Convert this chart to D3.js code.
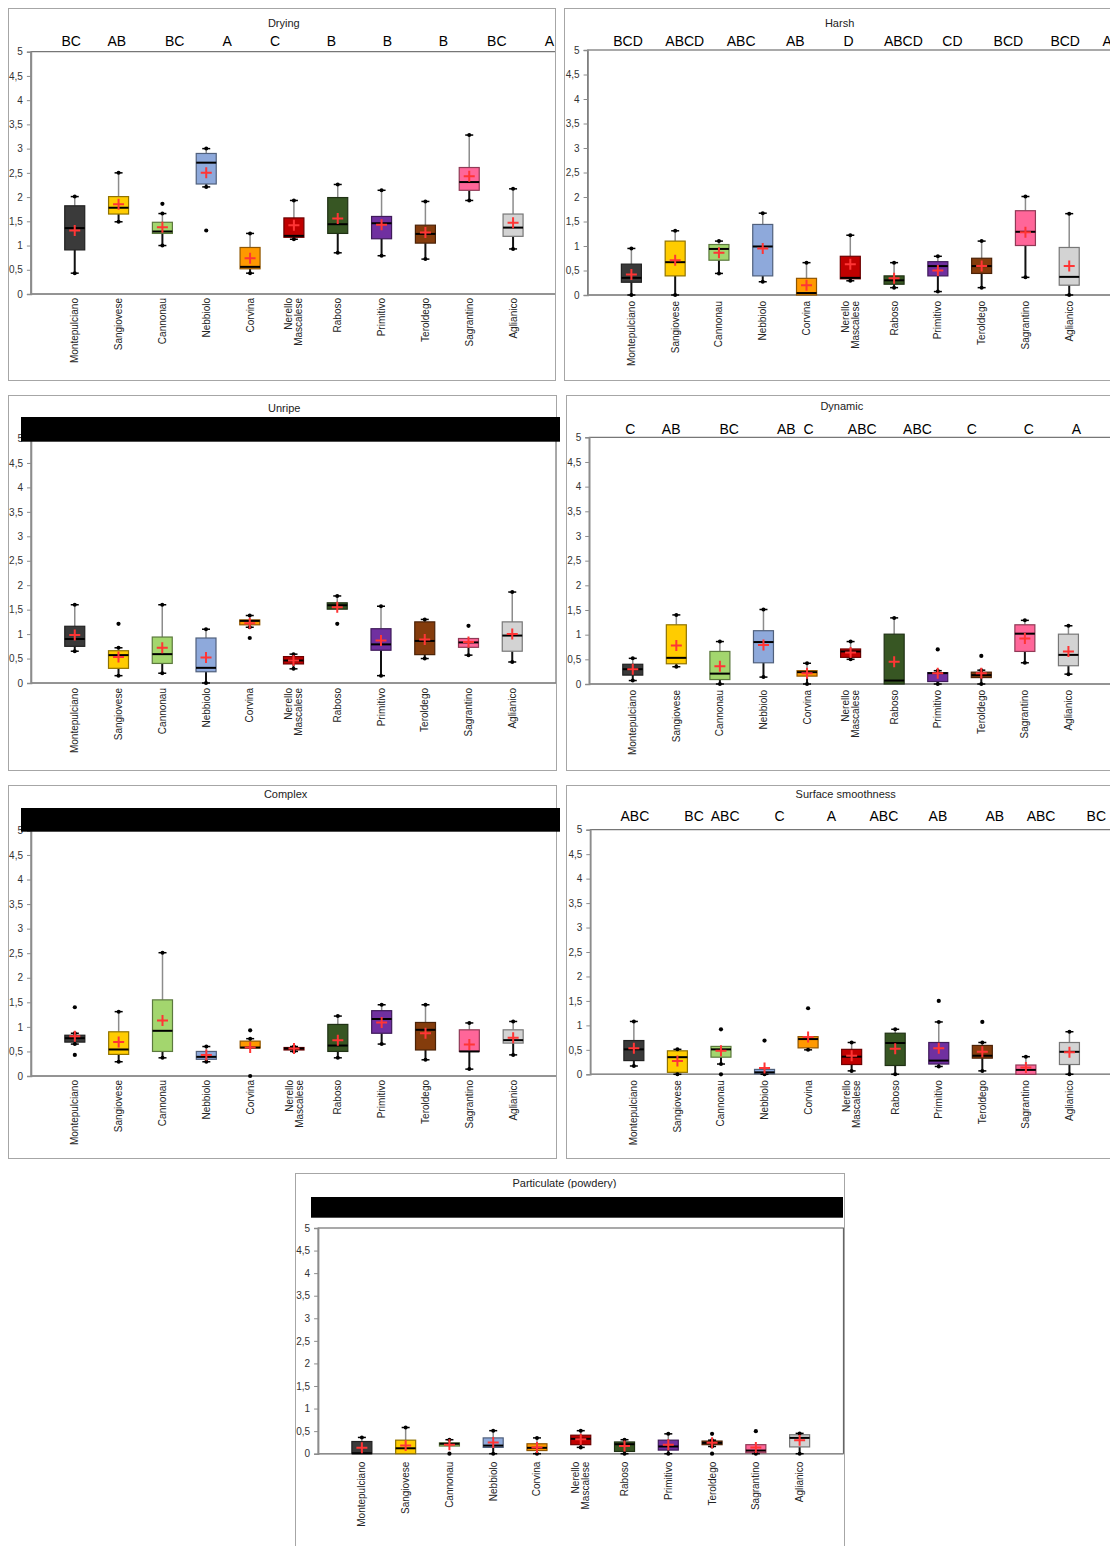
<!DOCTYPE html>
<html><head><meta charset="utf-8">
<script src="https://cdn.jsdelivr.net/npm/d3@7"></script>
<style>
body{margin:0;background:#fff}
svg{display:block}
text{font-family:"Liberation Sans",Arial,sans-serif}
</style>
</head><body>
<svg id="c" width="1110" height="1546"></svg>
<script>
// ---------- data ----------
const varieties = ["Montepulciano","Sangiovese","Cannonau","Nebbiolo","Corvina","Nerello Mascalese","Raboso","Primitivo","Teroldego","Sagrantino","Aglianico"];
const varietyLabels = [["Montepulciano"],["Sangiovese"],["Cannonau"],["Nebbiolo"],["Corvina"],["Nerello","Mascalese"],["Raboso"],["Primitivo"],["Teroldego"],["Sagrantino"],["Aglianico"]];
const varietyColors = ["#3a3a3a","#FFCC00","#A3D66E","#8EA9DB","#FF9900","#C00000","#375623","#7030A0","#843C0C","#FF6699","#D3D3D3"];
const yTicks = [0,0.5,1,1.5,2,2.5,3,3.5,4,4.5,5];

// [min, q1, median, q3, max] per variety
const dryingBox = [[0.43,0.91,1.36,1.82,2.01],[1.49,1.65,1.78,2.01,2.50],[1.00,1.25,1.29,1.48,1.66],[2.21,2.27,2.71,2.90,3.00],[0.43,0.52,0.56,0.96,1.25],[1.13,1.17,1.20,1.57,1.93],[0.85,1.25,1.44,1.99,2.26],[0.79,1.14,1.46,1.60,2.14],[0.72,1.05,1.24,1.42,1.91],[1.93,2.14,2.31,2.61,3.28],[0.93,1.19,1.37,1.65,2.17]];
const dryingMean = [1.31,1.85,1.38,2.50,0.74,1.42,1.56,1.43,1.27,2.43,1.47];
const dryingOutliers = [[],[],[1.86],[1.31],[],[],[],[],[],[],[]];
const dryingLetters = ["BC","AB","BC","A","C","B","B","B","BC","A"];
const dryingGaps = [7,10,10,10,12,12,12,10,10];

const harshBox = [[0,0.26,0.35,0.63,0.95],[0,0.39,0.67,1.10,1.31],[0.44,0.71,0.94,1.03,1.10],[0.27,0.39,0.99,1.44,1.67],[0,0,0.04,0.34,0.66],[0.29,0.33,0.35,0.79,1.22],[0.15,0.22,0.30,0.39,0.66],[0.07,0.39,0.59,0.68,0.79],[0.15,0.44,0.59,0.75,1.10],[0.36,1.01,1.29,1.72,2.01],[0,0.20,0.37,0.97,1.66]];
const harshMean = [0.42,0.71,0.86,0.95,0.20,0.63,0.34,0.50,0.59,1.28,0.59];
const harshOutliers = [[],[],[],[],[],[],[],[],[],[],[]];
const harshLetters = ["BCD","ABCD","ABC","AB","D","ABCD","CD","BCD","BCD","A"];
const harshGaps = [6,6,8,10,8,5,8,7,6];

const unripeBox = [[0.65,0.75,0.90,1.16,1.60],[0.15,0.30,0.57,0.66,0.72],[0.20,0.40,0.59,0.94,1.60],[0,0.23,0.31,0.92,1.10],[1.14,1.19,1.27,1.29,1.38],[0.29,0.39,0.46,0.54,0.59],[1.51,1.51,1.59,1.64,1.78],[0.15,0.67,0.79,1.11,1.57],[0.50,0.58,0.86,1.25,1.30],[0.57,0.73,0.83,0.91,0.91],[0.43,0.65,0.97,1.25,1.86]];
const unripeMean = [0.98,0.53,0.72,0.52,1.22,0.46,1.55,0.87,0.89,0.84,1.00];
const unripeOutliers = [[],[1.21],[],[],[0.92],[],[1.21],[],[],[1.17],[]];

const dynamicBox = [[0.07,0.18,0.30,0.40,0.52],[0.35,0.41,0.53,1.20,1.40],[0,0.09,0.21,0.66,0.86],[0.14,0.43,0.85,1.08,1.51],[0,0.16,0.24,0.27,0.42],[0.50,0.54,0.66,0.71,0.86],[0,0,0.07,1.01,1.34],[0,0.05,0.22,0.23,0.27],[0,0.13,0.18,0.24,0.28],[0.43,0.66,1.02,1.20,1.29],[0.20,0.37,0.59,1.01,1.18]];
const dynamicMean = [0.30,0.78,0.36,0.79,0.22,0.64,0.45,0.22,0.22,0.92,0.66];
const dynamicOutliers = [[],[],[],[],[],[],[],[0.70],[0.57],[],[]];
const dynamicLetters = ["C","AB","BC","AB","C","ABC","ABC","C","C","A"];
const dynamicGaps = [7,10,10,2,9,7,9,12,10];

const complexBox = [[0.65,0.69,0.77,0.83,0.87],[0.29,0.44,0.54,0.90,1.31],[0.37,0.50,0.92,1.55,2.51],[0.29,0.34,0.39,0.50,0.60],[0.57,0.57,0.58,0.71,0.76],[0.50,0.53,0.56,0.58,0.60],[0.37,0.50,0.62,1.05,1.22],[0.65,0.87,1.16,1.33,1.45],[0.33,0.53,0.94,1.09,1.45],[0.14,0.50,0.50,0.94,1.08],[0.43,0.67,0.73,0.94,1.11]];
const complexMean = [0.81,0.69,1.13,0.43,0.58,0.56,0.73,1.09,0.87,0.64,0.78];
const complexOutliers = [[1.40,0.43],[],[],[],[0.93,0],[],[],[],[],[],[]];

const surfaceBox = [[0.17,0.28,0.51,0.69,1.08],[0,0.04,0.35,0.48,0.51],[0.21,0.35,0.51,0.57,0.57],[0,0.01,0.04,0.10,0.10],[0.50,0.54,0.72,0.77,0.77],[0.07,0.20,0.36,0.51,0.65],[0,0.18,0.64,0.84,0.92],[0.16,0.21,0.28,0.65,1.07],[0.07,0.33,0.38,0.59,0.65],[0,0,0.09,0.19,0.36],[0,0.20,0.46,0.65,0.87]];
const surfaceMean = [0.53,0.27,0.48,0.13,0.76,0.38,0.52,0.53,0.46,0.14,0.45];
const surfaceOutliers = [[],[],[0.92,0],[0.69],[1.35],[],[],[1.50],[1.07],[],[]];
const surfaceLetters = ["ABC","BC","ABC","C","A","ABC","AB","AB","ABC","BC"];
const surfaceGaps = [9,2,9,11,9,8,10,6,8];

const particulateBox = [[0,0,0.01,0.27,0.36],[0,0,0.12,0.30,0.58],[0.17,0.17,0.22,0.24,0.31],[0,0.14,0.18,0.35,0.51],[0,0.07,0.13,0.22,0.35],[0.14,0.20,0.33,0.41,0.51],[0,0.05,0.21,0.26,0.31],[0,0.08,0.16,0.30,0.44],[0.16,0.20,0.24,0.28,0.30],[0,0.02,0.07,0.20,0.20],[0,0.15,0.35,0.42,0.45]];
const particulateMean = [0.13,0.18,0.20,0.25,0.14,0.32,0.17,0.20,0.24,0.14,0.30];
const particulateOutliers = [[],[],[0],[],[],[],[],[],[0.44,0],[0.50],[]];

// ---------- layout ----------
const panels = [
  {title:"Drying", box:dryingBox, mean:dryingMean, out:dryingOutliers, letters:dryingLetters, gaps:dryingGaps,
   frame:[8,8,555,380], plot:[30.9,556.9,51.7,294], tx:283.8, ty:27.3, lx:61.5, ly:46, lab:4},
  {title:"Harsh", box:harshBox, mean:harshMean, out:harshOutliers, letters:harshLetters, gaps:harshGaps,
   frame:[564,8,1130,380], plot:[587.6,1113,50,295], tx:839.6, ty:27.3, lx:613.2, ly:46, lab:6},
  {title:"Unripe", box:unripeBox, mean:unripeMean, out:unripeOutliers, bar:[21,417,560,441.7],
   frame:[8,395,556,770], plot:[31,556,438.5,683], tx:284.2, ty:411.7, lab:5},
  {title:"Dynamic", box:dynamicBox, mean:dynamicMean, out:dynamicOutliers, letters:dynamicLetters, gaps:dynamicGaps,
   frame:[566,395,1130,770], plot:[589.2,1112,437.3,684], tx:841.8, ty:410, lx:625.3, ly:434, lab:6},
  {title:"Complex", box:complexBox, mean:complexMean, out:complexOutliers, bar:[21,808,560,831.7],
   frame:[8,785,556,1158], plot:[31,557,830.4,1076], tx:285.6, ty:797.7, lab:4},
  {title:"Surface smoothness", box:surfaceBox, mean:surfaceMean, out:surfaceOutliers, letters:surfaceLetters, gaps:surfaceGaps,
   frame:[566,785,1130,1158], plot:[590.3,1113,829.7,1074.3], tx:845.7, ty:798.3, lx:620.5, ly:821, lab:6},
  {title:"Particulate (powdery)", box:particulateBox, mean:particulateMean, out:particulateOutliers, bar:[311,1197,843,1217.7],
   frame:[295,1173,844,1560], plot:[318.1,843.4,1228,1453.7], tx:564.4, ty:1187, lab:8, titleClip:1188.3}
];

const svg = d3.select("#c");
svg.append("rect").attr("width",1110).attr("height",1546).attr("fill","#fff");
const defs = svg.append("defs");

panels.forEach((p, pi) => {
  const [fx0, fy0, fx1, fy1] = p.frame;
  const [x0, x1, y5, y0] = p.plot;
  const clipId = "clip" + pi;
  defs.append("clipPath").attr("id", clipId).append("rect")
    .attr("x", fx0).attr("y", fy0).attr("width", fx1 - fx0).attr("height", fy1 - fy0);

  // panel frame
  svg.append("rect").attr("x", fx0 + 0.5).attr("y", fy0 + 0.5)
    .attr("width", fx1 - fx0).attr("height", fy1 - fy0)
    .attr("fill", "#fff").attr("stroke", "#a6a6a6").attr("stroke-width", 1);

  const g = svg.append("g").attr("clip-path", `url(#${clipId})`);

  const x = d3.scalePoint().domain(varieties).range([x0, x1]).padding(1);
  const y = d3.scaleLinear().domain([0, 5]).range([y0, y5]);

  // title
  const t = g.append("text").attr("x", p.tx).attr("y", p.ty)
    .attr("text-anchor", "middle").attr("font-size", 11).attr("fill", "#222").text(p.title);
  if (p.titleClip) {
    defs.append("clipPath").attr("id", "tclip" + pi).append("rect")
      .attr("x", fx0).attr("y", fy0).attr("width", fx1 - fx0).attr("height", p.titleClip - fy0);
    t.attr("clip-path", `url(#tclip${pi})`);
  }

  // significance letters
  if (p.letters) {
    let s = p.letters[0];
    for (let i = 1; i < p.letters.length; i++) s += " ".repeat(p.gaps[i - 1]) + p.letters[i];
    g.append("text").attr("x", p.lx).attr("y", p.ly)
      .attr("xml:space", "preserve").style("white-space", "pre")
      .attr("font-size", 14).attr("fill", "#000").text(s);
  }

  // plot frame
  g.append("rect").attr("x", x0).attr("y", y5).attr("width", x1 - x0).attr("height", y0 - y5)
    .attr("fill", "none").attr("stroke", "#555").attr("stroke-width", 1);

  // y axis
  const ya = g.append("g").attr("transform", `translate(${x0},0)`)
    .call(d3.axisLeft(y).tickValues(yTicks).tickSize(4).tickPadding(4)
      .tickFormat(d => String(d).replace(".", ",")));
  ya.select(".domain").attr("stroke", "#8c8c8c").attr("stroke-width", 1.6);
  ya.selectAll(".tick line").attr("stroke", "#8c8c8c");
  ya.selectAll(".tick text").attr("font-size", 10).attr("fill", "#333")
    .attr("font-family", '"Liberation Sans",Arial,sans-serif');

  // x axis line
  g.append("line").attr("x1", x0).attr("x2", x1).attr("y1", y0).attr("y2", y0)
    .attr("stroke", "#8c8c8c").attr("stroke-width", 1.6);

  // x labels
  varieties.forEach((v, i) => {
    const lg = g.append("g").attr("transform", `translate(${x(v)},${y0 + p.lab}) rotate(-90)`);
    const lines = varietyLabels[i];
    lines.forEach((ln, k) => {
      const off = lines.length === 1 ? 0 : (k === 0 ? -5 : 5);
      lg.append("text").attr("x", 0).attr("y", off).attr("dy", "0.35em")
        .attr("text-anchor", "end").attr("font-size", 10).attr("fill", "#222").text(ln);
    });
  });

  // boxes
  const bw = 20, cap = 4;
  varieties.forEach((v, i) => {
    const [mn, q1, md, q3, mx] = p.box[i];
    const cx = x(v);
    const col = varietyColors[i];
    const bg = g.append("g");
    if (mx > q3) {
      bg.append("line").attr("x1", cx).attr("x2", cx).attr("y1", y(q3)).attr("y2", y(mx))
        .attr("stroke", "#8c8c8c").attr("stroke-width", 1.5);
    }
    if (mn < q1) {
      bg.append("line").attr("x1", cx).attr("x2", cx).attr("y1", y(q1)).attr("y2", y(mn))
        .attr("stroke", "#111").attr("stroke-width", 2);
    }
    bg.append("rect").attr("x", cx - bw / 2).attr("y", y(q3)).attr("width", bw)
      .attr("height", Math.max(1, y(q1) - y(q3)))
      .attr("fill", col).attr("stroke", d3.color(col).darker(1.6)).attr("stroke-width", 1.2);
    bg.append("line").attr("x1", cx - bw / 2).attr("x2", cx + bw / 2).attr("y1", y(md)).attr("y2", y(md))
      .attr("stroke", "#000").attr("stroke-width", 2);
    [[mx, mx > q3], [mn, mn < q1]].forEach(([val, show]) => {
      if (!show) return;
      bg.append("line").attr("x1", cx - cap).attr("x2", cx + cap).attr("y1", y(val)).attr("y2", y(val))
        .attr("stroke", "#000").attr("stroke-width", 1.5);
      bg.append("circle").attr("cx", cx).attr("cy", y(val)).attr("r", 2).attr("fill", "#000");
    });
    p.out[i].forEach(o => {
      bg.append("circle").attr("cx", cx).attr("cy", y(o)).attr("r", 2.1).attr("fill", "#000");
    });
    const my = y(p.mean[i]);
    bg.append("path").attr("d", `M${cx - 5.5},${my}H${cx + 5.5}M${cx},${my - 5.5}V${my + 5.5}`)
      .attr("stroke", "#ff3535").attr("stroke-width", 2).attr("fill", "none");
  });

  if (p.bar) {
    const [bx0, by0, bx1, by1] = p.bar;
    svg.append("rect").attr("x", bx0).attr("y", by0).attr("width", bx1 - bx0).attr("height", by1 - by0)
      .attr("fill", "#000");
  }
});
</script>
</body></html>
